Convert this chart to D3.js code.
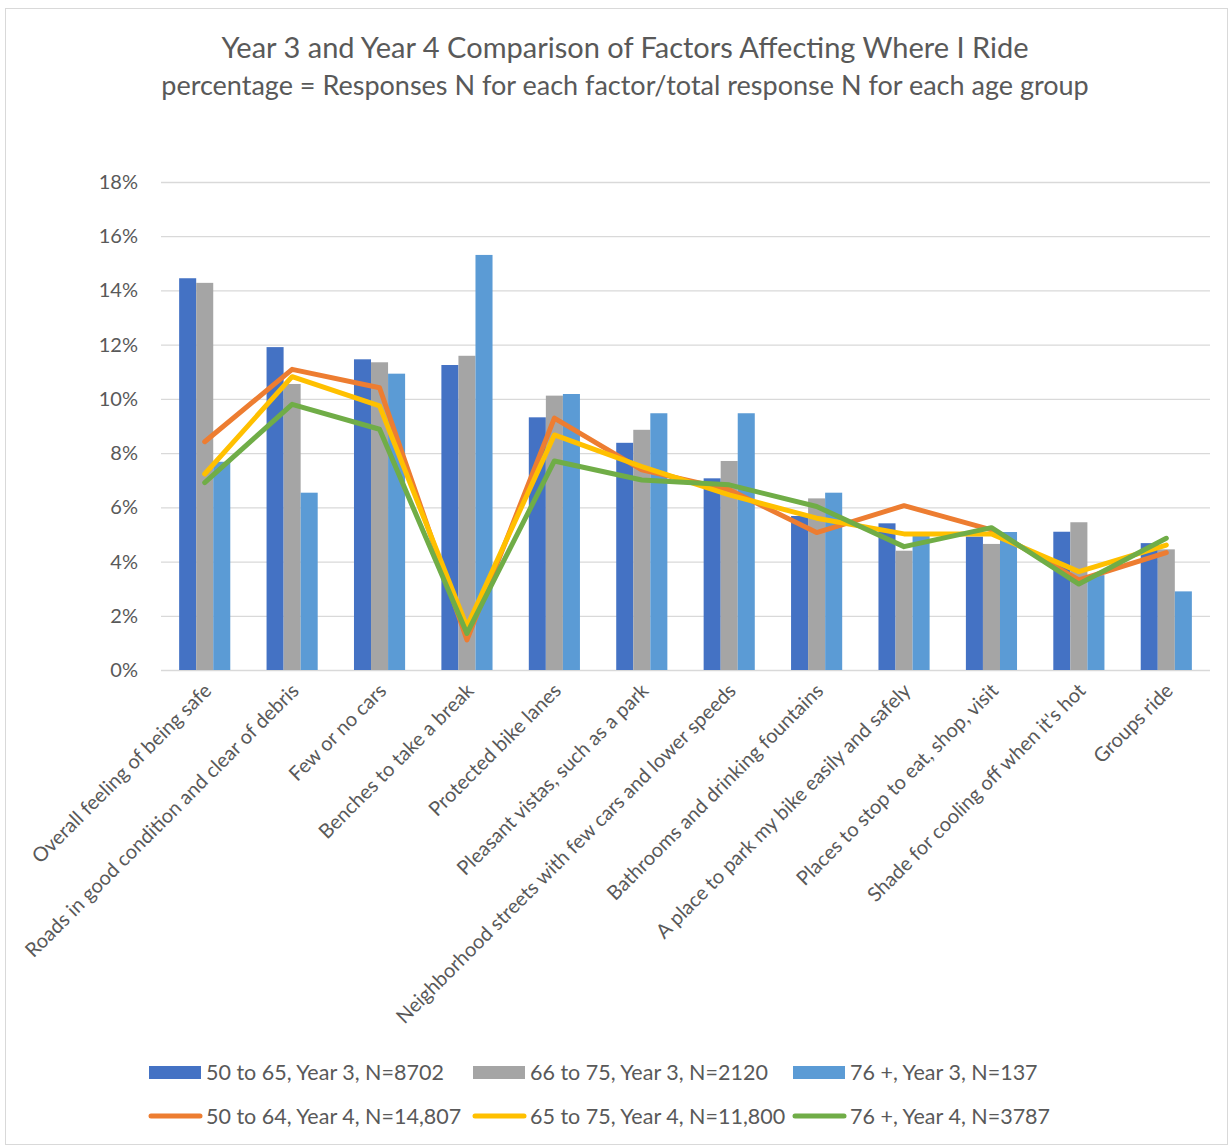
<!DOCTYPE html>
<html>
  <head>
    <title>Factors Affecting Where I Ride</title>
    <script src="https://d3js.org/d3.v7.min.js" charset="utf-8"></script>
    <style type="text/css">
      body { margin: 0; background: #fff; }
      text { font-family: Lato, "Open Sans", sans-serif; fill: #595959; }
    </style>
  </head>
  <body>
    <script type="text/javascript">

      // Categories along the x axis
      var categories = [
        "Overall feeling of being safe",
        "Roads in good condition and clear of debris",
        "Few or no cars",
        "Benches to take a break",
        "Protected bike lanes",
        "Pleasant vistas, such as a park",
        "Neighborhood streets with few cars and lower speeds",
        "Bathrooms and drinking fountains",
        "A place to park my bike easily and safely",
        "Places to stop to eat, shop, visit",
        "Shade for cooling off when it's hot",
        "Groups ride"
      ];

      // Year 3 bars (percent)
      var y3_50to65 = [14.45, 11.91, 11.46, 11.25, 9.32, 8.38, 7.07, 5.68, 5.41, 4.92, 5.10, 4.68];
      var y3_66to75 = [14.28, 10.55, 11.35, 11.59, 10.12, 8.86, 7.71, 6.33, 4.40, 4.65, 5.45, 4.45];
      var y3_76plus = [7.68, 6.54, 10.93, 15.31, 10.18, 9.47, 9.47, 6.54, 4.98, 5.09, 3.50, 2.90];

      // Year 4 lines (percent)
      var y4_50to64 = [8.42, 11.09, 10.41, 1.11, 9.29, 7.38, 6.65, 5.07, 6.06, 5.17, 3.32, 4.33];
      var y4_65to75 = [7.23, 10.82, 9.74, 1.60, 8.67, 7.50, 6.46, 5.60, 5.02, 5.02, 3.63, 4.61];
      var y4_76plus = [6.91, 9.80, 8.88, 1.35, 7.71, 7.01, 6.83, 6.03, 4.55, 5.25, 3.17, 4.86];

      var yTicks = [0, 2, 4, 6, 8, 10, 12, 14, 16, 18];

      var barSeries = [
        { name: "50 to 65, Year 3, N=8702", values: y3_50to65, color: "#4472C4" },
        { name: "66 to 75, Year 3, N=2120", values: y3_66to75, color: "#A5A5A5" },
        { name: "76 +, Year 3, N=137", values: y3_76plus, color: "#5B9BD5" }
      ];
      var lineSeries = [
        { name: "50 to 64, Year 4, N=14,807", values: y4_50to64, color: "#ED7D31" },
        { name: "65 to 75, Year 4, N=11,800", values: y4_65to75, color: "#FFC000" },
        { name: "76 +, Year 4, N=3787", values: y4_76plus, color: "#70AD47" }
      ];

      var width = 1230, height = 1147;
      var svg = d3.select("body").append("svg")
          .attr("width", width)
          .attr("height", height);

      // chart border
      svg.append("rect")
          .attr("x", 5.5).attr("y", 8.5)
          .attr("width", 1222).attr("height", 1136)
          .style("fill", "#fff")
          .style("stroke", "#d9d9d9");

      // titles
      svg.append("text")
          .attr("x", 625).attr("y", 58)
          .attr("text-anchor", "middle")
          .style("font-size", "29px")
          .text("Year 3 and Year 4 Comparison of Factors Affecting Where I Ride");
      svg.append("text")
          .attr("x", 625).attr("y", 95)
          .attr("text-anchor", "middle")
          .style("font-size", "27px")
          .text("percentage = Responses N for each factor/total response N for each age group");

      var plotLeft = 161, plotRight = 1210, plotTop = 182, plotBottom = 670;

      var x = d3.scaleBand().domain(d3.range(categories.length)).range([plotLeft, plotRight]);
      var xSub = d3.scaleBand().domain(d3.range(barSeries.length))
          .range([0, x.bandwidth() * 0.585]);
      var groupOffset = (x.bandwidth() - xSub.range()[1]) / 2;
      var y = d3.scaleLinear().domain([0, 18]).range([plotBottom, plotTop]);

      // gridlines
      svg.append("g").selectAll("line").data(yTicks).join("line")
          .attr("x1", plotLeft).attr("x2", plotRight)
          .attr("y1", d => y(d) + 0.5).attr("y2", d => y(d) + 0.5)
          .style("stroke", "#d9d9d9").style("stroke-width", 1.3);

      // y axis labels
      svg.append("g").selectAll("text").data(yTicks).join("text")
          .attr("x", 138).attr("y", d => y(d) + 7)
          .attr("text-anchor", "end")
          .style("font-size", "20px")
          .text(d => d + "%");

      // bars
      barSeries.forEach(function(s, si) {
        svg.append("g").selectAll("rect").data(s.values).join("rect")
            .attr("x", (d, i) => x(i) + groupOffset + xSub(si))
            .attr("width", xSub.bandwidth())
            .attr("y", d => y(d))
            .attr("height", d => y(0) - y(d))
            .style("fill", s.color);
      });

      // lines
      var line = d3.line()
          .x((d, i) => x(i) + x.bandwidth() / 2)
          .y(d => y(d));
      lineSeries.forEach(function(s) {
        svg.append("path")
            .attr("d", line(s.values))
            .style("fill", "none")
            .style("stroke", s.color)
            .style("stroke-width", 5)
            .style("stroke-linejoin", "round")
            .style("stroke-linecap", "round");
      });

      // category labels
      svg.append("g").selectAll("text").data(categories).join("text")
          .attr("transform", (d, i) => "translate(" + (x(i) + x.bandwidth() / 2 + 8) + "," + 692 + ") rotate(-45)")
          .attr("text-anchor", "end")
          .style("font-size", "20px")
          .text(d => d);

      // legend
      var legX = [149, 473, 793];
      barSeries.forEach(function(s, i) {
        svg.append("rect")
            .attr("x", legX[i]).attr("y", 1066)
            .attr("width", 52).attr("height", 13)
            .style("fill", s.color);
        svg.append("text")
            .attr("x", legX[i] + 57).attr("y", 1080)
            .style("font-size", "21.5px")
            .text(s.name);
      });
      lineSeries.forEach(function(s, i) {
        svg.append("line")
            .attr("x1", legX[i] + 2).attr("x2", legX[i] + 51)
            .attr("y1", 1116).attr("y2", 1116)
            .style("stroke", s.color)
            .style("stroke-width", 5)
            .style("stroke-linecap", "round");
        svg.append("text")
            .attr("x", legX[i] + 57).attr("y", 1124)
            .style("font-size", "21.5px")
            .text(s.name);
      });

    </script>
  </body>
</html>
